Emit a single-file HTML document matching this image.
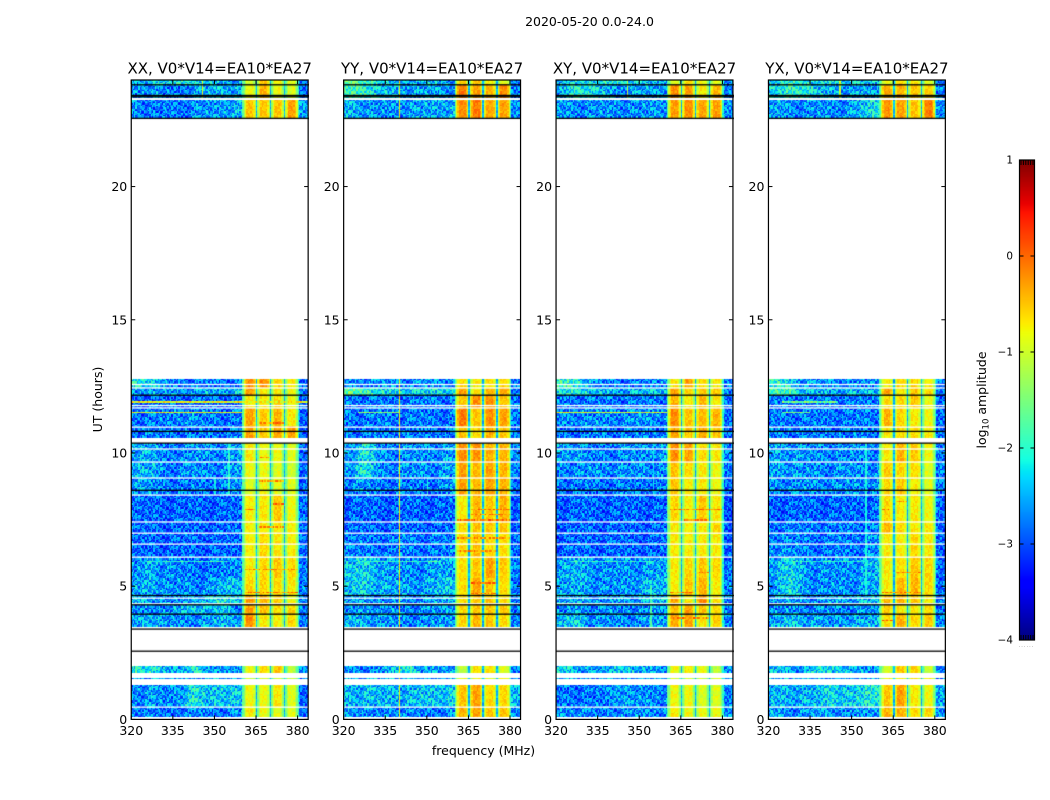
<!DOCTYPE html>
<html lang="en">
<head>
<meta charset="utf-8">
<title>2020-05-20 0.0-24.0</title>
<style>
html,body{margin:0;padding:0;background:#fff;}
#figure{position:relative;width:1050px;height:800px;overflow:hidden;background:#fff;}
canvas{position:absolute;display:block;}
svg{position:absolute;left:0;top:0;}
text{font-family:"DejaVu Sans","Liberation Sans",sans-serif;fill:#000;}
</style>
</head>
<body>
<div id="figure">
<canvas id="heat0"></canvas>
<canvas id="heat1"></canvas>
<canvas id="heat2"></canvas>
<canvas id="heat3"></canvas>
<canvas id="cbar"></canvas>
<svg id="overlay" width="1050" height="800" viewBox="0 0 1050 800">
<text x="589.5" y="26" text-anchor="middle" font-size="12.5">2020-05-20 0.0-24.0</text>
<text x="483.5" y="755" text-anchor="middle" font-size="12.5">frequency (MHz)</text>
<text transform="translate(102,399.5) rotate(-90)" text-anchor="middle" font-size="12.5">UT (hours)</text>
<text transform="translate(986,400) rotate(-90)" text-anchor="middle" font-size="12.5">log<tspan font-size="8.5" dy="2.5">10</tspan><tspan dy="-2.5"> amplitude</tspan></text>
<text x="1026.5" y="647" text-anchor="middle" font-size="5" letter-spacing="1" style="fill:#777">......</text>
</svg>
</div>
<script>
// ---- shared axis data ----
const panelTitles = ["XX, V0*V14=EA10*EA27", "YY, V0*V14=EA10*EA27", "XY, V0*V14=EA10*EA27", "YX, V0*V14=EA10*EA27"];
const xTicks = [320, 335, 350, 365, 380];
const yTicks = [0, 5, 10, 15, 20];
const cbarTicks = [1, 0, -1, -2, -3, -4];
const xDomain = [320, 383.8];
const yDomain = [0, 24];
const cbarDomain = [-4, 1];

// Observation epochs in UT hours: [from, to]. One row of each levels table per epoch.
const timeEpochs = [
[0.09,0.46],[0.46,1.30],[1.52,1.56],[1.76,2.01],[3.48,3.95],[3.95,4.30],[4.30,4.65],[4.65,5.30],
[5.30,6.09],[6.09,7.00],[7.00,7.41],[7.41,8.42],[8.42,9.06],[9.06,9.66],[9.66,10.39],[10.57,11.00],
[11.00,11.69],[11.69,12.17],[12.17,12.44],[12.44,12.79],[22.58,23.24],[23.33,23.82],[23.82,24.00]];

// Mean log10 amplitude x10. Columns: 320-360 MHz in 5 MHz sections (8), sub-bands A B C D (4), 380+ tail (1).
const levelsXX = [
[-26,-27,-28,-27,-26,-27,-27,-26,-7,-8,-9,-9,-27],
[-26,-25,-27,-25,-20,-24,-22,-23,-8,-8,-7,-9,-28],
[-25,-25,-25,-25,-25,-25,-25,-25,-10,-10,-10,-10,-27],
[-20,-20,-25,-24,-20,-25,-25,-25,-8,-6,-5,-11,-26],
[-25,-23,-26,-26,-26,-25,-24,-24,-2,-7,-7,-6,-27],
[-26,-26,-26,-25,-21,-25,-22,-26,-3,-5,-6,-6,-27],
[-24,-25,-26,-26,-24,-23,-20,-22,-3,-4,-5,-8,-27],
[-25,-24,-26,-26,-26,-26,-24,-23,-6,-6,-6,-7,-27],
[-26,-24,-26,-27,-27,-27,-27,-26,-7,-6,-5,-6,-27],
[-28,-28,-28,-28,-28,-28,-28,-28,-7,-6,-7,-7,-28],
[-28,-28,-28,-28,-28,-28,-28,-28,-7,-7,-7,-7,-28],
[-29,-29,-29,-29,-29,-29,-29,-28,-7,-7,-5,-8,-28],
[-25,-26,-27,-27,-27,-27,-27,-26,-9,-8,-9,-9,-28],
[-24,-24,-27,-26,-26,-26,-26,-25,-8,-8,-9,-10,-27],
[-24,-25,-27,-26,-26,-26,-26,-25,-7,-8,-8,-9,-27],
[-27,-27,-27,-27,-27,-27,-27,-27,-3,-5,-3,-3,-28],
[-27,-27,-27,-26,-26,-27,-27,-27,-3,-5,-4,-7,-28],
[-28,-28,-28,-28,-28,-28,-28,-28,-7,-7,-6,-8,-28],
[-25,-25,-25,-25,-25,-24,-24,-23,-3,-7,-7,-8,-27],
[-20,-22,-26,-27,-27,-27,-27,-27,-2,-2,-6,-7,-28],
[-26,-27,-27,-27,-26,-26,-25,-24,-5,-5,-5,-3,-25],
[-26,-25,-27,-27,-25,-24,-24,-24,-8,-4,-8,-9,-28],
[-25,-22,-22,-20,-21,-23,-24,-25,-10,-5,-7,-9,-28]];
const levelsYY = [
[-25,-26,-27,-26,-26,-27,-27,-26,-4,-3,-5,-5,-26],
[-24,-23,-24,-24,-24,-23,-23,-22,-5,-3,-6,-6,-24],
[-25,-25,-25,-25,-25,-25,-25,-25,-8,-8,-8,-8,-26],
[-26,-26,-26,-24,-19,-25,-25,-25,-11,-6,-6,-9,-27],
[-24,-24,-25,-26,-26,-26,-26,-25,-6,-4,-5,-6,-27],
[-26,-25,-26,-26,-26,-26,-26,-25,-6,-5,-5,-5,-27],
[-25,-25,-26,-26,-26,-26,-25,-24,-6,-5,-5,-6,-27],
[-23,-22,-24,-25,-25,-25,-24,-23,-6,-3,-5,-6,-27],
[-23,-22,-24,-26,-26,-26,-25,-25,-6,-5,-3,-5,-27],
[-27,-27,-27,-27,-27,-27,-27,-27,-6,-5,-6,-6,-28],
[-28,-28,-28,-28,-28,-28,-28,-28,-6,-5,-5,-5,-28],
[-29,-29,-29,-29,-29,-29,-29,-29,-7,-4,-5,-4,-28],
[-26,-26,-27,-27,-27,-27,-27,-26,-3,-4,-3,-4,-27],
[-25,-20,-26,-26,-26,-26,-26,-25,-3,-4,-3,-4,-26],
[-25,-20,-26,-26,-26,-26,-26,-25,-2,-2,-4,-4,-26],
[-27,-27,-27,-27,-27,-27,-27,-27,-5,-6,-4,-5,-27],
[-27,-27,-27,-27,-27,-27,-27,-27,-1,-5,-2,-3,-27],
[-27,-27,-27,-27,-27,-27,-27,-27,-5,-2,-2,-5,-27],
[-16,-18,-21,-22,-22,-22,-21,-21,-3,-7,-4,-3,-27],
[-26,-26,-26,-26,-26,-26,-26,-26,-6,-7,-6,-6,-27],
[-24,-25,-26,-26,-25,-25,-25,-24,-2,-1,-3,-3,-26],
[-18,-18,-23,-24,-25,-25,-25,-25,-1,-3,-4,-2,-27],
[-16,-18,-20,-24,-23,-24,-23,-25,-6,-5,-7,-9,-27]];
const levelsXY = [
[-26,-26,-27,-27,-26,-26,-26,-26,-7,-8,-8,-8,-26],
[-27,-27,-27,-27,-24,-26,-26,-26,-8,-8,-9,-9,-27],
[-25,-25,-25,-25,-25,-25,-25,-25,-10,-10,-10,-10,-26],
[-22,-24,-25,-25,-22,-23,-25,-25,-8,-7,-8,-11,-26],
[-24,-22,-26,-26,-26,-26,-25,-25,-3,-3,-7,-5,-27],
[-26,-25,-26,-26,-26,-26,-26,-26,-4,-3,-5,-6,-27],
[-25,-24,-25,-26,-25,-25,-24,-23,-3,-7,-2,-6,-27],
[-25,-24,-25,-26,-26,-25,-24,-24,-7,-5,-4,-7,-27],
[-25,-24,-25,-26,-26,-26,-25,-25,-7,-6,-5,-6,-27],
[-28,-28,-28,-28,-28,-28,-28,-28,-7,-7,-7,-7,-28],
[-28,-28,-28,-28,-28,-28,-28,-28,-7,-7,-7,-6,-28],
[-29,-29,-29,-29,-29,-29,-29,-29,-6,-7,-5,-7,-29],
[-27,-27,-27,-27,-27,-27,-27,-27,-5,-7,-7,-8,-28],
[-26,-26,-26,-26,-26,-26,-26,-26,-5,-6,-7,-8,-27],
[-25,-25,-27,-27,-26,-26,-26,-25,-2,-3,-6,-7,-27],
[-27,-27,-27,-27,-27,-27,-27,-27,-3,-5,-3,-5,-28],
[-26,-26,-26,-26,-26,-26,-26,-26,-2,-5,-4,-4,-28],
[-27,-27,-27,-27,-27,-27,-27,-27,-4,-7,-4,-7,-28],
[-21,-20,-23,-24,-24,-24,-23,-23,-3,-6,-5,-5,-27],
[-19,-20,-26,-27,-27,-27,-27,-26,-7,-3,-6,-7,-27],
[-26,-26,-26,-26,-26,-26,-26,-25,-3,-2,-3,-3,-26],
[-24,-19,-21,-24,-26,-25,-25,-25,-2,-3,-7,-4,-27],
[-24,-21,-22,-20,-20,-22,-23,-24,-9,-6,-8,-9,-27]];
const levelsYX = [
[-25,-26,-26,-25,-25,-26,-26,-25,-4,-4,-6,-6,-26],
[-24,-24,-24,-24,-21,-23,-22,-20,-5,-3,-7,-8,-25],
[-25,-25,-25,-25,-25,-25,-25,-25,-7,-7,-7,-7,-26],
[-23,-25,-25,-21,-22,-23,-25,-25,-9,-5,-6,-10,-27],
[-25,-23,-24,-25,-26,-25,-24,-24,-6,-4,-6,-5,-27],
[-26,-26,-26,-26,-26,-26,-26,-26,-5,-7,-7,-6,-27],
[-25,-25,-26,-26,-25,-25,-24,-23,-4,-4,-5,-7,-27],
[-25,-21,-25,-26,-26,-26,-25,-25,-7,-4,-4,-6,-27],
[-24,-22,-25,-26,-26,-26,-25,-24,-7,-6,-5,-6,-27],
[-26,-26,-27,-27,-27,-27,-27,-26,-7,-7,-6,-7,-28],
[-27,-27,-27,-27,-27,-27,-27,-27,-4,-6,-7,-7,-28],
[-28,-28,-28,-28,-28,-28,-28,-28,-6,-7,-7,-8,-28],
[-26,-26,-26,-26,-26,-26,-26,-26,-6,-5,-7,-9,-27],
[-25,-25,-26,-26,-26,-26,-26,-26,-5,-6,-6,-9,-27],
[-25,-25,-26,-26,-26,-26,-26,-26,-7,-4,-5,-8,-27],
[-27,-27,-27,-27,-27,-27,-27,-27,-7,-6,-6,-7,-28],
[-27,-27,-27,-27,-27,-27,-27,-27,-4,-6,-7,-8,-28],
[-27,-27,-27,-27,-27,-27,-27,-27,-6,-6,-5,-8,-28],
[-18,-18,-23,-24,-24,-24,-24,-24,-3,-7,-5,-6,-27],
[-19,-22,-25,-26,-26,-26,-26,-26,-7,-6,-6,-7,-27],
[-25,-26,-26,-26,-26,-26,-24,-21,-2,-3,-5,-1,-26],
[-22,-19,-19,-23,-24,-25,-25,-25,-3,-4,-5,-5,-27],
[-22,-19,-20,-22,-21,-22,-22,-23,-8,-6,-7,-9,-27]];

// Flagged rows, UT hours, common to all four panels.
const blackRows = [23.82, 23.42, 23.37, 22.56, 12.17, 10.81, 10.37, 8.60, 4.65, 4.30, 3.95, 3.39, 2.56];
const whiteRows = [12.57, 12.44, 11.78, 11.69, 10.97, 10.15, 9.66, 9.06, 8.42, 7.41, 6.99, 6.58, 6.09, 4.55, 4.34, 0.46];

// Interference channels: [MHz, from hour, to hour, log10 amplitude x10].
const rfiChannelsXX = [[355,8.42,10.39,-20],[350,8.42,9.06,-21],[345.5,23.33,24,-9]];
const rfiChannelsYY = [[340,0.09,24,-7],[350,8.42,9.06,-21]];
const rfiChannelsXY = [[355,8.42,10.39,-22],[354,3.48,5,-18],[345.5,23.33,24,-10]];
const rfiChannelsYX = [[355,4.65,10.39,-21],[345.5,23.33,24,-10]];
// Interference rows: [hour, from MHz, to MHz, log10 amplitude x10].
const rfiRowsXX = [[11.91,320,384,-8],[11.53,320,360,-8],[5.93,325,355,-20],[7.87,361,364.5,-1],[4.75,361,380,-2],[9.85,366,370,-3],[8.95,366,375,-3],[11.15,366,375,-2],[5.6,361,380,-3],[7.2,366,375,-3],[8.1,371,375,-2]];
const rfiRowsYY = [[11.53,325,340,-14],[5.93,325,355,-19],[7.5,361,380,-1],[7.9,366,380,-2],[5.1,366,375,-1],[4.7,366,375,-2],[6.3,361,375,-3],[7.7,366,380,-2],[6.8,361,380,-3]];
const rfiRowsXY = [[11.53,320,360,-9],[5.93,325,355,-20],[7.9,361,380,-2],[7.5,366,375,-2],[4.75,361,370,-2],[5.5,371,375,-3],[3.8,361,375,-2]];
const rfiRowsYX = [[11.91,325,345,-16],[11.53,325,335,-15],[5.93,325,355,-20],[4.75,361,375,-2],[7.9,361,364,-2],[3.72,361,365,-1],[5.5,366,375,-3],[8.2,366,370,-3]];

// Sub-band edges in MHz and the roll-off across a sub-band's channels (x10).
const subBandStarts = [360.5, 365.5, 370.5, 375.5];
const subBandShape = [-7, -3, 0, 0, 0, 0, 0, -2, -6];
const dipLevel = -25;
const fringeLevel = -17;
const lowBandBias = -1;
// Hand-typed cell texture (0-9), applied as a small offset around each section level.
const speckle = "37182649015946280375528419637750284913962754081937246508139726480152793684201957346082719534860291748365902175483609217546830912475863091274958036127495803162945780361294758130692847510396284751930682471509362847";

const panelLevels = [levelsXX, levelsYY, levelsXY, levelsYX];
const panelRfiChannels = [rfiChannelsXX, rfiChannelsYY, rfiChannelsXY, rfiChannelsYX];
const panelRfiRows = [rfiRowsXX, rfiRowsYY, rfiRowsXY, rfiRowsYX];
const panelKeys = ["xx", "yy", "xy", "yx"];

// ---- geometry ----
const axLeft0 = 131.25, axStep = 212.4, axWidth = 176.9, axTop = 80, axBottom = 719.4;
const cbLeft = 1019.5, cbRight = 1034.5, cbTop = 160, cbBottom = 640;
const channelWidth = 0.5, rowHeight = 0.05;

function yScale(h) { return axBottom - (h - yDomain[0]) / (yDomain[1] - yDomain[0]) * (axBottom - axTop); }
function xScale(f, left) { return left + (f - xDomain[0]) / (xDomain[1] - xDomain[0]) * axWidth; }
function cbScale(v) { return cbBottom - (v - cbarDomain[0]) / (cbarDomain[1] - cbarDomain[0]) * (cbBottom - cbTop); }

function ramp(pts, t) {
  for (let i = 1; i < pts.length; i++) {
    if (t <= pts[i][0]) {
      const a = pts[i - 1], b = pts[i];
      return a[1] + (b[1] - a[1]) * (t - a[0]) / (b[0] - a[0]);
    }
  }
  return pts[pts.length - 1][1];
}
const jetR = [[0,0],[.35,0],[.66,1],[.89,1],[1,.5]];
const jetG = [[0,0],[.125,0],[.375,1],[.64,1],[.91,0],[1,0]];
const jetB = [[0,.5],[.11,1],[.34,1],[.65,0],[1,0]];
function jet(v) {
  const t = Math.min(1, Math.max(0, (v - cbarDomain[0]) / (cbarDomain[1] - cbarDomain[0])));
  return "rgb(" + Math.round(255 * ramp(jetR, t)) + "," + Math.round(255 * ramp(jetG, t)) + "," + Math.round(255 * ramp(jetB, t)) + ")";
}

function lowLevel(row, f) {
  // shade between neighbouring 5 MHz sections so section edges do not read as blocks
  const pos = Math.min(7, Math.max(0, (f - 320) / 5 - 0.5));
  const i = Math.min(6, Math.floor(pos));
  const mix = row[i] + (row[i + 1] - row[i]) * (pos - i);
  return Math.max(-29, mix + lowBandBias);
}

function sectionLevel(row, f) {
  if (f < 360) return { v: lowLevel(row, f), amp: 1.2 };
  if (f < 360.5) return { v: fringeLevel, amp: 0.4 };
  if (f >= 380.5) return { v: row[12] + lowBandBias, amp: 1.1 };
  if (f >= 380) return { v: fringeLevel - 3, amp: 0.5 };
  for (let s = 0; s < 4; s++) {
    const start = subBandStarts[s];
    if (f >= start && f < start + 4.5) {
      const ch = Math.floor((f - start) / channelWidth);
      return { v: row[8 + s] + subBandShape[ch], amp: 0.35 };
    }
    if (f >= start + 4.5 && f < start + 5) return { v: dipLevel, amp: 0.4 };
  }
  return { v: row[11], amp: 0.35 };
}

function drawPanel(p) {
  const left = axLeft0 + p * axStep;
  const cv = document.getElementById("heat" + p);
  const cLeft = Math.floor(left), cTop = axTop, cW = Math.ceil(axWidth) + 1, cH = Math.ceil(axBottom - axTop);
  cv.width = cW; cv.height = cH;
  cv.style.left = cLeft + "px"; cv.style.top = cTop + "px";
  const ctx = cv.getContext("2d");
  const levels = panelLevels[p], chans = panelRfiChannels[p], rows = panelRfiRows[p];
  timeEpochs.forEach(function (ep, e) {
    for (let t = ep[0]; t < ep[1] - 1e-6; t += rowHeight) {
      const t2 = Math.min(ep[1], t + rowHeight);
      const y0 = Math.round(yScale(t2)) - cTop, y1 = Math.round(yScale(t)) - cTop;
      if (y1 <= y0) { if (ep[1] - ep[0] > rowHeight) continue; }
      const rowIdx = Math.round(t / rowHeight);
      for (let c = 0; c * channelWidth + xDomain[0] < xDomain[1]; c++) {
        const f = xDomain[0] + c * channelWidth;
        const sec = sectionLevel(levels[e], f);
        let base = sec.v, amp = sec.amp;
        chans.forEach(function (k) {
          if (f <= k[0] && f + channelWidth > k[0] && t >= k[1] && t < k[2]) { base = k[3]; amp = 0.3; }
        });
        rows.forEach(function (k) {
          if (k[0] >= t && k[0] < t + rowHeight && f >= k[1] && f < k[2]) { base = k[3]; amp = 0.8; }
        });
        const digit = speckle.charCodeAt((c * 13 + rowIdx * 89 + p * 37) % speckle.length) - 48;
        const val = base / 10 + (digit - 4.5) / 4.5 * 0.5 * amp;
        ctx.fillStyle = jet(val);
        const x0 = Math.round(xScale(f, left)) - cLeft;
        const x1 = Math.round(xScale(Math.min(f + channelWidth, xDomain[1]), left)) - cLeft;
        ctx.fillRect(x0, y0, Math.max(1, x1 - x0), Math.max(1, y1 - y0));
      }
    }
  });
  ctx.fillStyle = "#fff";
  whiteRows.forEach(function (h) { ctx.fillRect(0, yScale(h) - cTop - 0.65, cW, 1.3); });
  ctx.fillStyle = "#000";
  blackRows.forEach(function (h) { ctx.fillRect(0, yScale(h) - cTop - 0.65, cW, 1.3); });
}

function drawColorbar() {
  const cv = document.getElementById("cbar");
  const w = Math.round(cbRight - cbLeft), h = cbBottom - cbTop;
  cv.width = w; cv.height = h;
  cv.style.left = cbLeft + "px"; cv.style.top = cbTop + "px";
  const ctx = cv.getContext("2d");
  for (let y = 0; y < h; y++) {
    ctx.fillStyle = jet(cbarDomain[1] - (y + 0.5) / h * (cbarDomain[1] - cbarDomain[0]));
    ctx.fillRect(0, y, w, 1);
  }
}

const NS = "http://www.w3.org/2000/svg";
const overlay = document.getElementById("overlay");
function addLine(x1, y1, x2, y2, name) {
  const el = document.createElementNS(NS, "line");
  el.setAttribute("x1", x1); el.setAttribute("y1", y1);
  el.setAttribute("x2", x2); el.setAttribute("y2", y2);
  el.setAttribute("stroke", "#000"); el.setAttribute("stroke-width", "1");
  
  
  overlay.appendChild(el);
}
function addText(x, y, anchor, size, str, name) {
  const el = document.createElementNS(NS, "text");
  el.setAttribute("x", x); el.setAttribute("y", y);
  el.setAttribute("text-anchor", anchor); el.setAttribute("font-size", size);
  el.textContent = str;
  
  
  overlay.appendChild(el);
}
function addFrame(x, y, w, h, name) {
  const el = document.createElementNS(NS, "rect");
  el.setAttribute("x", x); el.setAttribute("y", y);
  el.setAttribute("width", w); el.setAttribute("height", h);
  el.setAttribute("fill", "none"); el.setAttribute("stroke", "#000"); el.setAttribute("stroke-width", "1.2");
  
  
  overlay.appendChild(el);
}

panelTitles.forEach(function (title, p) {
  drawPanel(p);
  const left = axLeft0 + p * axStep, right = left + axWidth, key = panelKeys[p];
  addFrame(left, axTop, axWidth, axBottom - axTop, "axes-frame-" + key);
  addText(left + axWidth / 2, 73.5, "middle", 15, title, "panel-title-" + key);
  xTicks.forEach(function (tick) {
    const x = xScale(tick, left);
    addLine(x, axBottom, x, axBottom - 4, "x-tick-bottom-" + key);
    addLine(x, axTop, x, axTop + 4, "x-tick-top-" + key);
    addText(x, 735, "middle", 12.5, String(tick), "x-tick-label-" + key);
  });
  yTicks.forEach(function (tick) {
    const y = yScale(tick);
    addLine(left, y, left + 4, y, "y-tick-left-" + key);
    addLine(right, y, right - 4, y, "y-tick-right-" + key);
    addText(left - 4, y + 4.5, "end", 12.5, String(tick), "y-tick-label-" + key);
  });
});

drawColorbar();
addFrame(cbLeft, cbTop, cbRight - cbLeft, cbBottom - cbTop, "colorbar-frame");
cbarTicks.forEach(function (tick) {
  const y = cbScale(tick);
  addLine(cbLeft, y, cbLeft + 4, y, "colorbar-tick-left");
  addLine(cbRight, y, cbRight - 4, y, "colorbar-tick-right");
  addText(1013, y + 3.5, "end", 10.4, (tick < 0 ? "\u2212" : "") + Math.abs(tick), "colorbar-tick-label");
});
for (let i = 0; i < 6; i++) {
  const x = cbLeft + 1.5 + i * 2.4;
  addLine(x, cbTop, x, cbTop + 5, "colorbar-minor-tick-top");
  addLine(x, cbBottom, x, cbBottom - 5, "colorbar-minor-tick-bottom");
}
</script>
</body>
</html>
